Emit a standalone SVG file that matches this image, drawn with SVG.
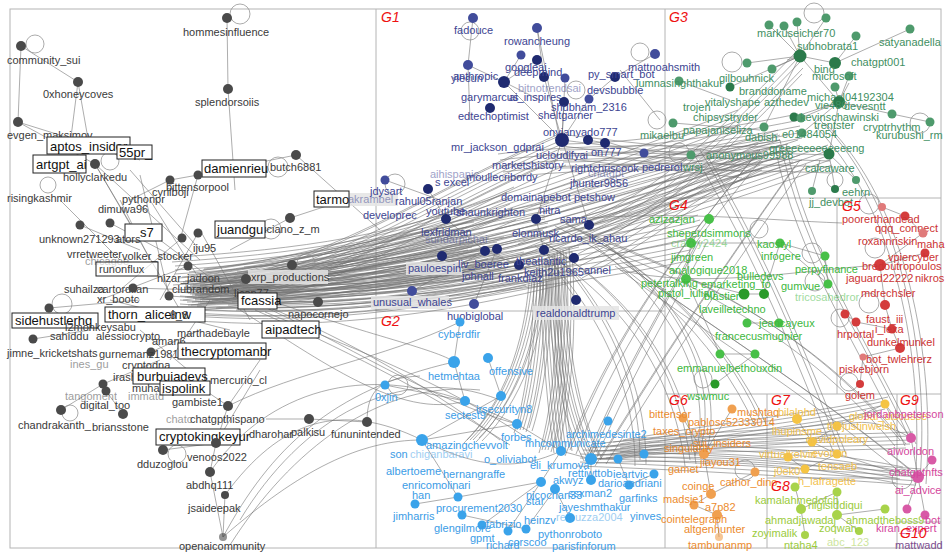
<svg xmlns="http://www.w3.org/2000/svg" width="950" height="557" viewBox="0 0 950 557">
<defs>
<style>
.t{font-family:"Liberation Sans",Arial,sans-serif;font-size:11px}
.bt{font-family:"Liberation Sans",Arial,sans-serif;font-size:13px;fill:#111}
.gl{font-family:"Liberation Sans",Arial,sans-serif;font-size:14px;font-style:italic;fill:#ee1111}
.bx{fill:#fff;stroke:#222;stroke-width:1}
.lb{fill:#e4e4e4;opacity:.85}
.fr{fill:none;stroke:#b4b4b4;stroke-width:1}
.e{fill:none;stroke:#6f6f6f;stroke-width:.8;stroke-opacity:.72}
.lp{fill:none;stroke:#8a8a8a;stroke-width:1}
.fd{opacity:.5}
.u{fill:#3a3a3a}.g1{fill:#3d4592}.g2{fill:#3b9ce6}.g3{fill:#3f8f62}.g4{fill:#3db83d}.g5{fill:#cc3333}.g6{fill:#ec8b2e}.g7{fill:#f2c14e}.g8{fill:#9bcb3c}.g9{fill:#d4479d}.g10{fill:#7b4d8f}
.nu{fill:#4a4a4a}.n1{fill:#414c9b}.n1d{fill:#1f2a70}.n2{fill:#3aa3ea}.n3{fill:#4e9a6c}.n3d{fill:#2b7a4b}.n4{fill:#48c048}.n4d{fill:#2a9a2a}.n5{fill:#d43c3c}.n5l{fill:#e07a7a}.n6{fill:#f0a050}.n7{fill:#f5c443}.n8{fill:#a8d34a}.n9{fill:#d85aa6}
</style>
<g id="bA">
<path d="M185 285C280 275 380 250 470 235"/>
<path d="M190 290C290 285 400 265 500 250"/>
<path d="M200 282C300 270 420 240 545 215"/>
<path d="M195 295C300 300 420 290 540 265"/>
<path d="M210 288C320 280 430 200 560 145"/>
<path d="M180 300C300 310 420 300 575 260"/>
<path d="M175 270C290 262 400 250 510 200"/>
<path d="M240 280C330 275 420 275 485 251"/>
<path d="M230 290C330 292 430 285 520 265"/>
</g>
<g id="bA2">
<path d="M190 285C350 270 600 200 780 140"/>
<path d="M200 290C380 280 620 210 800 150"/>
<path d="M195 295C400 290 640 220 760 160"/>
<path d="M205 280C370 260 580 180 740 120"/>
<path d="M185 292C380 290 650 240 700 225"/>
<path d="M200 298C400 300 600 270 690 250"/>
<path d="M220 292C420 285 620 230 830 155"/>
</g>
<g id="bG">
<path d="M540 200C600 180 660 160 780 140"/>
<path d="M560 150C620 150 700 140 800 120"/>
<path d="M520 250C600 220 680 170 790 150"/>
<path d="M580 260C640 230 700 180 760 150"/>
<path d="M500 160C580 150 680 150 830 155"/>
<path d="M562 140C640 150 700 155 740 160"/>
<path d="M590 225C650 200 700 160 800 56"/>
</g>
<g id="bB">
<path d="M545 260C548 320 550 380 560 450"/>
<path d="M552 255C555 320 560 400 590 458"/>
<path d="M540 270C540 340 530 400 520 430"/>
<path d="M560 250C565 330 560 400 545 450"/>
<path d="M535 280C530 340 510 400 470 440"/>
</g>
<g id="bC">
<path d="M560 220C640 260 720 330 760 420"/>
<path d="M580 230C680 270 800 320 900 440"/>
<path d="M600 240C680 300 720 380 700 450"/>
<path d="M540 240C640 300 680 380 690 460"/>
<path d="M620 260C700 320 800 380 910 470"/>
<path d="M700 150C760 250 800 350 840 450"/>
<path d="M780 140C800 250 870 350 910 440"/>
<path d="M820 120C900 200 930 350 920 480"/>
<path d="M560 260C620 330 640 400 640 460"/>
<path d="M570 450C610 350 660 270 760 150"/>
<path d="M590 455C630 360 680 280 700 240"/>
<path d="M600 460C650 380 700 300 800 160"/>
</g>
<g id="bD">
<path d="M590 452C700 440 800 445 910 440"/>
<path d="M600 455C700 450 800 455 900 475"/>
<path d="M610 450C700 438 780 440 840 430"/>
<path d="M580 458C700 462 820 470 918 477"/>
<path d="M620 448C720 430 820 420 885 405"/>
</g>
</defs>
<rect width="950" height="557" fill="#fff"/>
<g id="frames" class="fr">
<rect x="10" y="9" width="931" height="539"/>
<path d="M376 9V548M376 311H665M665 9V548M665 198H941M837 198V394M665 394H941M767 394V548M897 394V548M767 478H897M897 522H941"/>
</g>
<g id="connectors" class="e">
<use href="#bA"/><use href="#bA" transform="translate(0,4)"/><use href="#bA" transform="translate(0,-4)"/><use href="#bA" transform="translate(3,8)"/><use href="#bA" transform="translate(-3,-8)"/><use href="#bA" transform="translate(2,12)"/><use href="#bA" transform="translate(-2,15)"/><use href="#bA" transform="translate(4,-13)"/><use href="#bA" transform="translate(6,20)"/>
<use href="#bA2"/><use href="#bA2" transform="translate(0,5)"/><use href="#bA2" transform="translate(0,-5)"/><use href="#bA2" transform="translate(2,10)"/><use href="#bA2" transform="translate(-2,-10)"/>
<use href="#bG"/><use href="#bG" transform="translate(0,6)"/><use href="#bG" transform="translate(3,12)"/><use href="#bG" transform="translate(-2,-6)"/><use href="#bG" transform="translate(2,18)"/>
<use href="#bB"/><use href="#bB" transform="translate(3,0)"/><use href="#bB" transform="translate(6,2)"/><use href="#bB" transform="translate(-3,0)"/><use href="#bB" transform="translate(9,-2)"/><use href="#bB" transform="translate(-6,3)"/><use href="#bB" transform="translate(12,1)"/>
<use href="#bC"/><use href="#bC" transform="translate(6,4)"/><use href="#bC" transform="translate(-5,6)"/>
<use href="#bD"/><use href="#bD" transform="translate(0,4)"/><use href="#bD" transform="translate(0,-4)"/><use href="#bD" transform="translate(-4,8)"/><use href="#bD" transform="translate(3,-8)"/>
<path d="M21 46L78 82M21 46L18 122M78 82L70 145M78 82L90 150M18 122L95 164M18 122L140 160M227 18L228 89M228 89L235 190M296 155L198 175M198 175L170 180M296 155L380 230M170 180L130 200M198 175L180 240M95 164L140 240M95 164L200 260M80 225L140 250M110 223L180 260M198 233L160 300M182 238L120 290M188 266L100 300M133 288L200 290M169 296L230 300M49 308L140 300M33 339L90 330M151 352L200 330M290 218L230 250M290 218L348 199M292 265L230 280M318 302L240 300M246 279L200 300M120 200L150 260M60 200L120 260M150 200L200 280M210 300L170 360M140 330L200 380M103 384L61 410M106 391L123 414M103 384L160 360M163 450L216 443M216 443L210 472M210 472L223 537M225 495L223 537M228 406L216 443M228 406L190 380M309 419L367 422M309 419L266 419M228 406L260 360M216 443L260 370M130 170L200 250M140 175L170 300M110 300L230 330M200 230L250 320M160 240L240 300M95 164L180 310"/>
<path d="M225 495C280 420 340 400 422 440M223 537C270 450 330 390 454 362M210 472C260 400 350 360 465 401M228 406C300 370 380 360 460 322M240 520C300 420 400 360 500 400M230 545C290 450 380 380 480 390M367 422C367 390 380 378 420 376M250 300C330 330 420 380 500 440M260 305C340 340 430 400 520 425M240 310C320 360 400 420 465 401M270 300C350 330 440 350 454 362M223 537C300 470 360 440 422 440M255 310C335 345 425 390 510 445M265 312C345 345 440 380 530 440"/>
<path d="M537 28L544 77M521 55L504 82M537 60L504 82M544 77L562 140M504 82L562 140M565 78L562 140M589 99L562 140M564 102L562 140M615 77L655 54M615 77L589 99M473 18L468 65M468 65L504 82M504 82L540 100M468 65L470 120M588 140L605 143M562 140L536 219M536 219L544 250M485 251L519 265M446 219L485 251M442 256L497 249M412 291L485 251M576 300L544 250M589 225L562 140M644 153L600 140M644 153L690 155M428 189L446 219M385 180L440 200M474 304L497 249M620 70L660 120M537 28L560 140"/>
<path d="M769 25L800 56M784 26L800 56M797 22L800 56M826 18L800 56M856 36L835 63M910 29L835 63M787 60L800 56M772 69L800 56M747 63L800 56M730 87L800 56M849 83L839 102M835 87L839 102M849 76L839 102M892 114L839 102M930 122L892 114M794 117L839 102M801 118L839 102M764 127L800 56M802 133L839 102M829 154L839 102M856 180L829 154M679 81L730 100M673 123L760 130M691 155L780 140M835 189L829 154M812 191L820 160M800 56L839 102M835 63L800 56"/>
<path d="M709 219L691 243M691 243L686 279M686 279L744 294M744 294L764 294M764 294L780 243M780 243L825 256M825 256L828 284M747 323L779 323M720 354L755 354M686 279L720 354M691 243L780 243M715 384L755 354M828 284L780 243"/>
<path d="M882 207L905 216M905 216L923 233M923 233L880 265M925 253L880 265M880 265L885 305M885 305L892 329M845 314L856 322M856 322L892 329M892 329L900 348M863 357L900 348M860 384L863 357M842 223C760 220 680 210 560 220M880 265C800 270 700 290 620 270"/>
<path d="M422 440L501 396M422 440L517 424M517 424L561 451M561 451L591 459M591 459L618 459M618 459L644 454M541 482L561 451M591 480L591 459M629 485L618 459M555 489L570 518M526 529L555 489M482 525L541 482M508 531L541 482M458 497L541 482M462 515L526 529M415 504L458 497M454 362L465 401M465 401L517 424M460 322L454 362M488 358L501 396M608 421L591 459M654 474L629 485M422 440C480 470 520 470 561 451M385 385L465 401M422 440L458 497"/>
<path d="M683 418L704 454M704 454L711 494M711 494L694 505M732 409L704 454M755 472L711 494M717 515L694 505M719 537L717 515M797 419L812 442M812 442L837 426M837 426L885 404M788 457L805 469M805 469L837 454M837 454L812 442M795 487L801 509M801 509L837 492M837 492L837 515M837 515L885 509M805 535L801 509M859 531L837 515M911 438L918 477M932 460L918 477M918 477L925 515M907 509L918 477M885 404L911 438M918 477C880 470 860 460 837 454M911 438C880 420 860 420 837 426"/>
<g class="lp">
<circle cx="35" cy="44" r="9"/><circle cx="240" cy="14" r="10"/><circle cx="278" cy="167" r="10"/><circle cx="271" cy="229" r="10"/><circle cx="306" cy="263" r="9"/><circle cx="177" cy="454" r="9"/><circle cx="70" cy="413" r="8"/><circle cx="62" cy="304" r="10"/><circle cx="110" cy="161" r="9"/><circle cx="48" cy="185" r="8"/>
<circle cx="398" cy="385" r="10"/><circle cx="470" cy="31" r="9"/><circle cx="640" cy="52" r="9"/><circle cx="576" cy="90" r="9"/><circle cx="395" cy="184" r="10"/>
<circle cx="657" cy="120" r="9"/><circle cx="814" cy="13" r="10"/><circle cx="732" cy="62" r="10"/><circle cx="920" cy="123" r="10"/><circle cx="679" cy="153" r="10"/><circle cx="835" cy="180" r="8"/>
<circle cx="869" cy="204" r="10"/><circle cx="875" cy="248" r="10"/><circle cx="869" cy="303" r="10"/><circle cx="840" cy="318" r="9"/><circle cx="849" cy="382" r="9"/>
<circle cx="759" cy="229" r="9"/><circle cx="812" cy="253" r="10"/><circle cx="815" cy="281" r="10"/><circle cx="703" cy="379" r="9"/>
<circle cx="745" cy="470" r="10"/><circle cx="902" cy="479" r="10"/>
</g>
</g>
<g id="labelbg">
<rect class="lb" x="248" y="270" width="80" height="14"/><rect class="lb" x="533" y="306" width="86" height="14"/><rect class="lb" x="406" y="262" width="56" height="13"/><rect class="lb" x="346" y="193" width="52" height="13"/><rect class="lb" x="371" y="296" width="78" height="13"/>
</g>
<g id="ungrouped">
<g id="n_community_sui"><circle class="nu" cx="21" cy="46" r="5"/><text class="t u" x="7" y="64">community_sui</text></g>
<g id="n_0xhoneycoves"><circle class="nu" cx="78" cy="82" r="5"/><text class="t u" x="43" y="98">0xhoneycoves</text></g>
<g id="n_evgen_maksimov"><circle class="nu" cx="18" cy="122" r="5"/><text class="t u" x="7" y="139">evgen_maksimov</text></g>
<g id="n_aptos_insider"><rect class="bx" x="47" y="137" width="83" height="17"/><text class="bt" x="50" y="151">aptos_insider</text></g>
<g id="n_55pr_"><rect class="bx" x="117" y="145" width="35" height="14"/><text class="bt" x="119" y="157">55pr_</text></g>
<g id="n_artgpt_ai"><rect class="bx" x="33" y="155" width="53" height="18"/><text class="bt" x="36" y="169">artgpt_ai</text></g>
<g id="n_hollyclarkedu"><circle class="nu" cx="95" cy="164" r="5"/><text class="t u" x="63" y="181">hollyclarkedu</text></g>
<g id="n_hommesinfluence"><circle class="nu" cx="227" cy="18" r="5"/><text class="t u" x="183" y="36">hommesinfluence</text></g>
<g id="n_splendorsoiis"><circle class="nu" cx="228" cy="89" r="5"/><text class="t u" x="195" y="106">splendorsoiis</text></g>
<g id="n_damienrieu"><rect class="bx" x="202" y="160" width="64" height="17"/><text class="bt" x="204" y="173">damienrieu</text></g>
<g id="n_butch6881"><circle class="nu" cx="296" cy="155" r="5"/><text class="t u" x="270" y="171">butch6881</text></g>
<g id="n_bittensorpool"><circle class="nu" cx="170" cy="180" r="4.5"/><circle class="nu" cx="198" cy="175" r="4.5"/><text class="t u" x="166" y="191">bittensorpool</text></g>
<g id="n_risingkashmir"><circle class="nu" cx="80" cy="225" r="4.5"/><text class="t u" x="7" y="202">risingkashmir</text></g>
<g id="n_pythonpr"><text class="t u" x="122" y="203">pythonpr</text></g>
<g id="n_cyrilboji"><text class="t u" x="152" y="196">cyrilboji</text></g>
<g id="n_dimuwa96"><circle class="nu" cx="110" cy="223" r="4.5"/><text class="t u" x="98" y="213">dimuwa96</text></g>
<g id="n_s7"><rect class="bx" x="125" y="224" width="37" height="17"/><text class="bt" x="140" y="237">s7</text></g>
<g id="n_unknown271293"><circle class="nu" cx="182" cy="238" r="4.5"/><circle class="nu" cx="198" cy="233" r="4.5"/><text class="t u" x="39" y="243">unknown271293</text><text class="t u" x="116" y="243">ators</text></g>
<g id="n_vrretweeter"><text class="t u" x="67" y="258">vrretweeter</text></g>
<g id="n_volker_stocker"><text class="t u" x="122" y="260">volker_stocker</text></g>
<g id="n_iju95"><text class="t u" x="193" y="252">iju95</text></g>
<g id="n_chicagoe"><text class="t u fd" x="85" y="265">chicagoe</text></g>
<g id="n_runonflux"><rect class="bx" x="96" y="262" width="62" height="14" fill-opacity=".6"/><text class="t u" x="99" y="273">runonflux</text></g>
<g id="n_nizar_jadoon"><circle class="nu" cx="188" cy="266" r="4.5"/><text class="t u" x="157" y="282">nizar_jadoon</text></g>
<g id="n_suhailza"><text class="t u" x="64" y="293">suhailza</text><text class="t u" x="97" y="293">cartordilan</text></g>
<g id="n_clubrandom"><circle class="nu" cx="133" cy="288" r="4.5"/><circle class="nu" cx="169" cy="296" r="4.5"/><text class="t u" x="172" y="293">clubrandom</text></g>
<g id="n_xr_bootc"><text class="t u" x="97" y="303">xr_bootc</text></g>
<g id="n_sidehustlerhq"><circle class="nu" cx="49" cy="308" r="4.5"/><rect class="bx" x="12" y="313" width="86" height="15"/><text class="bt" x="15" y="325">sidehustlerhq</text></g>
<g id="n_thorn_aliceinw"><rect class="bx" x="105" y="307" width="100" height="15"/><text class="bt" x="108" y="319">thorn_aliceinw</text><text class="t u" x="170" y="319">8_8</text></g>
<g id="n_monkeysabu"><text class="t u" x="65" y="331">l2monkeysabu</text></g>
<g id="n_sahiddu"><circle class="nu" cx="33" cy="339" r="4.5"/><text class="t u" x="50" y="340">sahiddu</text></g>
<g id="n_alessiocrypto"><text class="t u" x="96" y="340">alessiocrypto</text></g>
<g id="n_aman6"><text class="t u" x="152" y="345">aman6</text></g>
<g id="n_marthadebayle"><text class="t u" x="177" y="337">marthadebayle</text></g>
<g id="n_jimne_kricketshats"><text class="t u" x="7" y="357">jimne_kricketshats</text></g>
<g id="n_gurnemanz1981"><circle class="nu" cx="151" cy="352" r="4.5"/><text class="t u" x="99" y="358">gurnemanz1981</text></g>
<g id="n_thecryptomanbr"><rect class="bx" x="178" y="343" width="88" height="16"/><text class="bt" x="181" y="356">thecryptomanbr</text></g>
<g id="n_cryptodna"><text class="t u fd" x="70" y="368">ines_gu</text><text class="t u" x="122" y="369">cryptodna</text></g>
<g id="n_xrp_productions"><circle class="nu" cx="246" cy="279" r="5"/><text class="t u" x="251" y="281">xrp_productions</text></g>
<g id="n_lican77"><text class="t u" x="234" y="297">lican77</text></g>
<g id="n_fcassia"><rect class="bx" x="238" y="293" width="39" height="16"/><text class="bt" x="241" y="305">fcassia</text></g>
<g id="n_napocornejo"><circle class="nu" cx="318" cy="302" r="5"/><text class="t u" x="288" y="318">napocornejo</text></g>
<g id="n_aipadtech"><rect class="bx" x="262" y="321" width="57" height="17"/><text class="bt" x="265" y="334">aipadtech</text></g>
<g id="n_tarmo"><circle class="nu" cx="290" cy="218" r="5"/><rect class="bx" x="314" y="191" width="35" height="16"/><text class="bt" x="316" y="204">tarmo</text><text class="t g1 fd" x="348" y="203">akrambel</text></g>
<g id="n_luciano_z_m"><text class="t u" x="258" y="233">luciano_z_m</text></g>
<g id="n_juandgu"><circle class="nu" cx="292" cy="265" r="5"/><rect class="bx" x="215" y="221" width="50" height="17"/><text class="bt" x="217" y="234">juandgu</text></g>
<g id="n_mercurio_cl"><text class="t u" x="210" y="384">mercurio_cl</text></g>
<g id="n_chatgpthispano"><circle class="nu" cx="228" cy="406" r="5"/><text class="t u fd" x="166" y="423">chatc</text><text class="t u" x="190" y="423">chatgpthispano</text></g>
<g id="n_dharohar"><text class="t u" x="249" y="438">dharohar</text></g>
<g id="n_palkisu"><circle class="nu" cx="309" cy="419" r="5"/><text class="t u" x="291" y="436">palkisu</text></g>
<g id="n_fununintended"><circle class="nu" cx="367" cy="422" r="5"/><text class="t u" x="331" y="438">fununintended</text></g>
<g id="n_burbujadevs"><text class="t u" x="113" y="381">irash</text><rect class="bx" x="133" y="368" width="72" height="16"/><text class="bt" x="137" y="381">burbujadevs</text></g>
<g id="n_ispolink"><circle class="nu" cx="103" cy="384" r="4.5"/><circle class="nu" cx="106" cy="391" r="4.5"/><text class="t u" x="132" y="392">muhan</text><rect class="bx" x="160" y="381" width="50" height="14"/><text class="bt" x="162" y="393">ispolink</text></g>
<g id="n_tangoment"><text class="t u fd" x="65" y="400">tangoment</text></g>
<g id="n_digital_too"><text class="t u" x="80" y="409">digital_too</text></g>
<g id="n_gambiste1"><text class="t u fd" x="128" y="400">immatd</text><text class="t u" x="172" y="406">gambiste1</text></g>
<g id="n_chandrakanth_"><circle class="nu" cx="61" cy="410" r="5"/><text class="t u" x="18" y="429">chandrakanth_</text></g>
<g id="n_briansstone"><circle class="nu" cx="123" cy="414" r="5"/><text class="t u" x="92" y="431">briansstone</text></g>
<g id="n_cryptokingkeyur"><rect class="bx" x="156" y="429" width="84" height="16"/><text class="bt" x="159" y="441">cryptokingkeyur</text></g>
<g id="n_dduzoglou"><circle class="nu" cx="163" cy="450" r="5"/><text class="t u" x="137" y="468">dduzoglou</text></g>
<g id="n_venoos2022"><circle class="nu" cx="216" cy="443" r="5"/><text class="t u" x="187" y="461">venoos2022</text></g>
<g id="n_abdhq111"><circle class="nu" cx="210" cy="472" r="5"/><text class="t u" x="186" y="489">abdhq111</text></g>
<g id="n_jsaideepak"><circle class="nu" cx="225" cy="495" r="4"/><text class="t u" x="188" y="512">jsaideepak</text></g>
<g id="n_openaicommunity"><circle class="nu" cx="223" cy="537" r="4" opacity=".6"/><text class="t u" x="179" y="550">openaicommunity</text></g>
</g>
<g id="G1">
<g id="n_fadouce"><circle class="n1" cx="473" cy="18" r="5"/><text class="t g1" x="454" y="34">fadouce</text></g>
<g id="n_ylecun"><circle class="n1" cx="468" cy="65" r="5"/><text class="t g1" x="451" y="82">ylecun</text></g>
<g id="n_rowancheung"><circle class="n1" cx="537" cy="28" r="5"/><text class="t g1" x="504" y="45">rowancheung</text></g>
<g id="n_googleai"><circle class="n1" cx="521" cy="55" r="4.5"/><circle class="n1d" cx="537" cy="60" r="5"/><text class="t g1" x="505" y="71">googleai</text></g>
<g id="n_deepmind"><circle class="n1d" cx="544" cy="77" r="5"/><text class="t g1" x="514" y="76">deepmind</text></g>
<g id="n_anthropic"><circle class="n1d" cx="504" cy="82" r="6"/><text class="t g1" x="453" y="80">anthropic</text></g>
<g id="n_bitnotrendsai"><text class="t g1 fd" x="518" y="92">bitnotrendsai</text></g>
<g id="n_garymarcus"><text class="t g1" x="461" y="101">garymarcus</text><text class="t g1" x="509" y="101">ai_inspires</text></g>
<g id="n_py_smart_bot"><circle class="n1" cx="565" cy="78" r="4.5"/><circle class="n1d" cx="615" cy="77" r="5"/><text class="t g1" x="588" y="78">py_smart_bot</text></g>
<g id="n_mattnoahsmith"><circle class="n1" cx="655" cy="54" r="5"/><text class="t g1" x="628" y="71">mattnoahsmith</text></g>
<g id="n_devsbubble"><circle class="n1" cx="589" cy="99" r="4.5"/><text class="t g1" x="587" y="94">devsbubble</text></g>
<g id="n_shubham_2316"><circle class="n1d" cx="564" cy="102" r="5"/><text class="t g1" x="551" y="111">shubham_2316</text></g>
<g id="n_sheltgarner"><text class="t g1" x="538" y="119">sheltgarner</text></g>
<g id="n_edtechoptimist"><circle class="n1d" cx="490" cy="108" r="5"/><text class="t g1" x="458" y="120">edtechoptimist</text></g>
<g id="n_onyianyado777"><text class="t g1" x="543" y="136">onyianyado777</text></g>
<g id="n_hub1"><circle class="n1d" cx="562" cy="140" r="7"/><circle class="n1d" cx="588" cy="140" r="5"/><circle class="n1d" cx="605" cy="143" r="5"/></g>
<g id="n_mr_jackson"><text class="t g1" x="451" y="151">mr_jackson_gdprai</text></g>
<g id="n_ucloudifyai"><text class="t g1" x="536" y="159">ucloudifyai</text><text class="t g1" x="591" y="156">on777</text></g>
<g id="n_marketshistory"><text class="t g1" x="492" y="169">marketshistory</text></g>
<g id="n_rightchriscook"><text class="t g1" x="571" y="172">rightchriscook</text></g>
<g id="n_moullecribordy"><text class="t g1" x="466" y="181">moullecribordy</text></g>
<g id="n_chatgpt"><text class="t g1 fd" x="588" y="177">chatgpt</text></g>
<g id="n_jhunter9856"><text class="t g1" x="570" y="187">jhunter9856</text></g>
<g id="n_pedrerol"><circle class="n1" cx="644" cy="153" r="4.5"/><text class="t g1" x="642" y="171">pedrerol</text></g>
<g id="n_aihispanic"><text class="t g1 fd" x="430" y="178">aihispanic</text><text class="t g1" x="435" y="186">s excel</text></g>
<g id="n_g1left"><circle class="n1" cx="385" cy="180" r="4.5"/></g>
<g id="n_jdysart"><circle class="n1d" cx="428" cy="189" r="5"/><text class="t g1" x="370" y="195">jdysart</text></g>
<g id="n_rahul05ranjan"><text class="t g1" x="395" y="205">rahul05ranjan</text></g>
<g id="n_developrec"><text class="t g1" x="363" y="219">developrec</text></g>
<g id="n_youtube"><text class="t g1" x="426" y="215">youtube</text></g>
<g id="n_shaunkrighton"><text class="t g1" x="456" y="216">shaunkrighton</text></g>
<g id="n_lexfridman"><circle class="n1d" cx="446" cy="219" r="5"/><text class="t g1" x="421" y="236">lexfridman</text></g>
<g id="n_sundarpichai"><text class="t g1 fd" x="425" y="243">sundarpichai</text></g>
<g id="n_elonmusk"><circle class="n1d" cx="536" cy="219" r="5"/><text class="t g1" x="512" y="237">elonmusk</text></g>
<g id="n_domainapebot"><text class="t g1" x="501" y="201">domainapebot</text><text class="t g1" x="574" y="201">petshow</text></g>
<g id="n_nitra"><text class="t g1" x="539" y="214">nitra</text></g>
<g id="n_sama"><circle class="n1d" cx="589" cy="225" r="5"/><text class="t g1" x="560" y="223">sama</text></g>
<g id="n_ricardo_ik_ahau"><circle class="n1d" cx="544" cy="250" r="5"/><text class="t g1" x="549" y="242">ricardo_ik_ahau</text></g>
<g id="n_g1mid"><circle class="n1d" cx="485" cy="251" r="5"/><circle class="n1d" cx="497" cy="249" r="5"/><circle class="n1d" cx="574" cy="258" r="5"/><circle class="n1d" cx="519" cy="265" r="5"/></g>
<g id="n_pauloespin"><circle class="n1d" cx="442" cy="256" r="5"/><text class="t g1" x="408" y="272">pauloespin</text></g>
<g id="n_liv_boeree"><text class="t g1" x="458" y="268">liv_boeree</text></g>
<g id="n_theatlantic"><text class="t g1" x="516" y="265">theatlantic</text></g>
<g id="n_keith2u1965"><text class="t g1" x="524" y="276">keith2u1965</text></g>
<g id="n_annel"><text class="t g1" x="584" y="274">annel</text></g>
<g id="n_johnall"><text class="t g1" x="462" y="280">johnall</text></g>
<g id="n_frankdiaz"><text class="t g1" x="498" y="282">frankdiaz</text></g>
<g id="n_realdonaldtrump"><circle class="n1d" cx="576" cy="300" r="5"/><text class="t g1" x="536" y="317">realdonaldtrump</text></g>
<g id="n_unusual_whales"><circle class="n1" cx="412" cy="291" r="5"/><text class="t g1" x="373" y="306">unusual_whales</text></g>
<g id="n_huobiglobal"><circle class="n1" cx="474" cy="304" r="5"/><text class="t g1" x="447" y="320">huobiglobal</text></g>
</g>
<g id="G2">
<g id="n_cyberdfir"><circle class="n2" cx="460" cy="322" r="4.5"/><text class="t g2" x="438" y="338">cyberdfir</text></g>
<g id="n_hetmehtaa"><circle class="n2" cx="454" cy="362" r="6"/><text class="t g2" x="428" y="380">hetmehtaa</text></g>
<g id="n_offensive"><circle class="n2" cx="488" cy="358" r="5"/><text class="t g2" x="489" y="375">offensive</text></g>
<g id="n_0xjin"><circle class="n2" cx="385" cy="385" r="4.5"/><text class="t g2" x="375" y="401">0xjin</text></g>
<g id="n_sectest9"><circle class="n2" cx="465" cy="401" r="5"/><text class="t g2" x="445" y="419">sectest9</text></g>
<g id="n_irsecurityn8"><circle class="n2" cx="501" cy="396" r="5"/><circle class="n2" cx="517" cy="424" r="5"/><text class="t g2" x="476" y="413">irsecurityn8</text></g>
<g id="n_amazingchevvolt"><circle class="n2" cx="422" cy="440" r="6"/><text class="t g2" x="426" y="449">amazingchevvolt</text></g>
<g id="n_forbes"><text class="t g2" x="501" y="441">forbes</text></g>
<g id="n_archimedesinte2"><circle class="n2" cx="608" cy="421" r="4.5"/><text class="t g2" x="566" y="438">archimedesinte2</text></g>
<g id="n_mhcommunicate"><text class="t g2" x="525" y="447">mhcommunicate</text></g>
<g id="n_son"><text class="t g2" x="390" y="458">son</text><text class="t g2 fd" x="410" y="458">chiganbaravi</text></g>
<g id="n_o_oliviabot"><text class="t g2" x="484" y="463">o_oliviabot</text></g>
<g id="n_albertoeme"><text class="t g2" x="386" y="475">albertoeme</text></g>
<g id="n_hernangraffe"><text class="t g2" x="443" y="478">hernangraffe</text></g>
<g id="n_eli_krumova"><circle class="n2" cx="561" cy="451" r="5"/><text class="t g2" x="530" y="469">eli_krumova</text></g>
<g id="n_hub2"><circle class="n2" cx="591" cy="459" r="6"/><circle class="n2" cx="618" cy="459" r="4.5"/><circle class="n2" cx="644" cy="454" r="4.5"/><circle class="n2" cx="654" cy="474" r="4.5"/></g>
<g id="n_rettiwttob"><text class="t g2" x="568" y="477">rettiwttob</text></g>
<g id="n_ieartvic"><text class="t g2" x="613" y="478">ieartvic</text></g>
<g id="n_akwyz"><circle class="n2" cx="541" cy="482" r="5"/><text class="t g2" x="553" y="484">akwyz</text></g>
<g id="n_darioandriani"><circle class="n2" cx="591" cy="480" r="5"/><circle class="n2" cx="629" cy="485" r="4.5"/><text class="t g2" x="598" y="487">darioandriani</text></g>
<g id="n_enricomolinari"><text class="t g2" x="402" y="489">enricomolinari</text></g>
<g id="n_nicochan33"><circle class="n2" cx="555" cy="489" r="5"/><text class="t g2" x="526" y="499">nicochan33</text></g>
<g id="n_ssxman2"><text class="t g2" x="568" y="497">ssxman2</text></g>
<g id="n_garfinks"><text class="t g2" x="619" y="502">garfinks</text></g>
<g id="n_han"><circle class="n2" cx="415" cy="504" r="4.5"/><text class="t g2" x="412" y="499">han</text></g>
<g id="n_star"><text class="t g2" x="526" y="505">star</text></g>
<g id="n_procurement2030"><circle class="n2" cx="458" cy="497" r="4.5"/><text class="t g2" x="436" y="512">procurement2030</text></g>
<g id="n_jayeshmthakur"><text class="t g2" x="559" y="511">jayeshmthakur</text></g>
<g id="n_remuzza2004"><circle class="n2" cx="570" cy="518" r="5"/><text class="t g2 fd" x="556" y="521">remuzza2004</text></g>
<g id="n_yinves"><text class="t g2" x="630" y="520">yinves</text></g>
<g id="n_jimharris"><text class="t g2" x="393" y="520">jimharris</text></g>
<g id="n_fabrizio"><circle class="n2" cx="482" cy="525" r="4.5"/><text class="t g2" x="486" y="528">fabrizio</text></g>
<g id="n_heinzv"><circle class="n2" cx="526" cy="529" r="4.5"/><text class="t g2" x="524" y="524">heinzv</text></g>
<g id="n_glengilmore"><circle class="n2" cx="462" cy="515" r="4.5"/><text class="t g2" x="434" y="532">glengilmore</text></g>
<g id="n_pythonroboto"><text class="t g2" x="538" y="538">pythonroboto</text></g>
<g id="n_gpmt"><circle class="n2" cx="508" cy="531" r="4.5"/><text class="t g2" x="470" y="542">gpmt</text></g>
<g id="n_corscoo"><text class="t g2" x="508" y="546">corscoo</text></g>
<g id="n_richard"><text class="t g2" x="486" y="549">richard</text></g>
<g id="n_parisfinforum"><text class="t g2" x="552" y="550">parisfinforum</text></g>
</g>
<g id="G3">
<g id="n_lumnasinghthakur"><circle class="n3" cx="679" cy="81" r="4.5"/><text class="t g3" x="636" y="87">lumnasinghthakur</text></g>
<g id="n_mikaelbu"><circle class="n3" cx="673" cy="123" r="4.5"/><text class="t g3" x="640" y="139">mikaelbu</text></g>
<g id="n_trojen"><text class="t g3" x="683" y="111">trojen</text></g>
<g id="n_chipsystryder"><text class="t g3" x="693" y="121">chipsystryder</text></g>
<g id="n_papajaniseliza"><text class="t g3" x="683" y="134">papajaniseliza</text></g>
<g id="n_wrsj"><circle class="n3" cx="691" cy="155" r="4.5"/><text class="t g3" x="683" y="171">wrsj</text></g>
<g id="n_markuseicher70"><circle class="n3" cx="769" cy="25" r="4.5"/><circle class="n3" cx="784" cy="26" r="4.5"/><circle class="n3" cx="797" cy="22" r="4.5"/><circle class="n3" cx="826" cy="18" r="4.5"/><text class="t g3" x="757" y="37">markuseicher70</text></g>
<g id="n_subhobrata1"><circle class="n3d" cx="800" cy="56" r="6.5"/><text class="t g3" x="797" y="50">subhobrata1</text></g>
<g id="n_chatgpt001"><circle class="n3d" cx="835" cy="63" r="6"/><text class="t g3" x="851" y="66">chatgpt001</text></g>
<g id="n_satyanadella"><circle class="n3" cx="910" cy="29" r="4.5"/><circle class="n3" cx="856" cy="36" r="4.5"/><text class="t g3" x="879" y="46">satyanadella</text></g>
<g id="n_gilbouhnick"><circle class="n3" cx="747" cy="63" r="4.5"/><circle class="n3" cx="772" cy="69" r="4.5"/><text class="t g3" x="719" y="82">gilbouhnick</text></g>
<g id="n_microsoft"><circle class="n3" cx="849" cy="76" r="4.5"/><text class="t g3" x="814" y="73">bing</text><text class="t g3" x="812" y="80">microsoft</text></g>
<g id="n_branddoname"><circle class="n3d" cx="730" cy="87" r="4.5"/><text class="t g3" x="739" y="95">branddoname</text></g>
<g id="n_michael04192304"><circle class="n3" cx="835" cy="87" r="4.5"/><text class="t g3" x="807" y="101">michael04192304</text></g>
<g id="n_vitalyshape"><text class="t g3" x="705" y="106">vitalyshape</text><text class="t g3" x="764" y="106">azthedev</text></g>
<g id="n_devesntt"><circle class="n3d" cx="839" cy="102" r="6"/><text class="t g3" x="815" y="109">vie486</text><text class="t g3" x="844" y="110">devesntt</text></g>
<g id="n_kevinschawinski"><circle class="n3d" cx="794" cy="117" r="4.5"/><circle class="n3" cx="801" cy="118" r="4.5"/><text class="t g3" x="800" y="121">kevinschawinski</text></g>
<g id="n_cryptrhythm"><circle class="n3" cx="892" cy="114" r="4.5"/><text class="t g3" x="863" y="131">cryptrhythm</text></g>
<g id="n_kurubushi_rm"><circle class="n3" cx="930" cy="122" r="4.5"/><text class="t g3" x="876" y="139">kurubushi_rm</text></g>
<g id="n_trentster"><text class="t g3" x="814" y="129">trentster</text></g>
<g id="n_e01484054"><circle class="n3" cx="802" cy="133" r="4.5"/><text class="t g3" x="782" y="138">e01484054</text></g>
<g id="n_dabish"><circle class="n3" cx="764" cy="127" r="4.5"/><text class="t g3" x="745" y="141">dabish</text></g>
<g id="n_anonymous99988"><text class="t g3" x="706" y="159">anonymous99988</text></g>
<g id="n_greeeeeeeeeeeeng"><text class="t g3" x="769" y="152">greeeeeeeeeeeeng</text></g>
<g id="n_calcaware"><circle class="n3d" cx="829" cy="154" r="5.5"/><circle class="n3" cx="856" cy="180" r="4"/><text class="t g3" x="805" y="172">calcaware</text></g>
<g id="n_eehrn"><circle class="n3d" cx="835" cy="189" r="4"/><text class="t g3" x="842" y="196">eehrn</text></g>
<g id="n_jj_devbot"><circle class="n3" cx="812" cy="191" r="4"/><text class="t g3" x="809" y="206">jj_devbot</text></g>
</g>
<g id="G4">
<g id="n_azizazjan"><circle class="n4" cx="709" cy="219" r="5"/><text class="t g4" x="649" y="223">azizazjan</text></g>
<g id="n_sheperdsimmons"><circle class="n4" cx="691" cy="243" r="5"/><text class="t g4" x="667" y="237">sheperdsimmons</text></g>
<g id="n_crazyy2424"><text class="t g4 fd" x="671" y="247">crazyy2424</text></g>
<g id="n_kaostyl"><circle class="n4" cx="780" cy="243" r="4.5"/><text class="t g4" x="757" y="248">kaostyl</text></g>
<g id="n_infogere"><circle class="n4" cx="825" cy="256" r="4.5"/><text class="t g4" x="761" y="260">infogere</text></g>
<g id="n_jimgreen"><text class="t g4" x="671" y="261">jimgreen</text></g>
<g id="n_analogique2018"><circle class="n4" cx="686" cy="279" r="5"/><text class="t g4" x="669" y="274">analogique2018</text></g>
<g id="n_bulledevs"><text class="t g4" x="737" y="280">bulledevs</text></g>
<g id="n_perpyfinance"><text class="t g4" x="795" y="273">perpyfinance</text></g>
<g id="n_petertalking"><text class="t g4" x="641" y="287">petertalking</text></g>
<g id="n_emarketing_fo"><text class="t g4" x="701" y="288">emarketing_fo</text></g>
<g id="n_gumvue"><circle class="n4" cx="828" cy="284" r="4.5"/><text class="t g4" x="781" y="290">gumvue</text></g>
<g id="n_pistol_iulian"><text class="t g4" x="658" y="297">pistol_iulian</text></g>
<g id="n_blastier"><circle class="n4d" cx="744" cy="294" r="5.5"/><circle class="n4d" cx="764" cy="294" r="5"/><text class="t g4" x="704" y="300">blastier</text></g>
<g id="n_tricosahedror"><text class="t g4 fd" x="795" y="301">tricosahedror</text></g>
<g id="n_laveilletechno"><text class="t g4" x="699" y="313">laveilletechno</text></g>
<g id="n_jeancayeux"><circle class="n4" cx="747" cy="323" r="4.5"/><circle class="n4" cx="779" cy="323" r="4.5"/><text class="t g4" x="759" y="327">jeancayeux</text></g>
<g id="n_francecu"><text class="t g4" x="715" y="340">francecu</text></g>
<g id="n_smugnier"><text class="t g4" x="757" y="340">smugnier</text></g>
<g id="n_emmanuelbethouxdin"><circle class="n4" cx="755" cy="354" r="4.5"/><circle class="n4" cx="720" cy="354" r="4.5"/><text class="t g4" x="677" y="372">emmanuelbethouxdin</text></g>
<g id="n_wswmuc"><circle class="n4d" cx="715" cy="384" r="4.5"/><text class="t g4" x="687" y="400">wswmuc</text></g>
</g>
<g id="G5">
<g id="n_poorerthandead"><circle class="n5l" cx="882" cy="207" r="4"/><circle class="n5" cx="905" cy="216" r="4.5"/><text class="t g5" x="842" y="223">poorerthandead</text></g>
<g id="n_qqq_connect"><text class="t g5" x="875" y="232">qqq_connect</text></g>
<g id="n_roxannriskin"><circle class="n5l" cx="923" cy="233" r="4.5"/><text class="t g5" x="858" y="245">roxannriskin</text></g>
<g id="n_maha"><text class="t g5" x="917" y="248">maha</text></g>
<g id="n_vpiercyber"><circle class="n5" cx="925" cy="253" r="4.5"/><text class="t g5" x="888" y="261">vpiercyber</text></g>
<g id="n_bredoutropoulos"><circle class="n5" cx="880" cy="265" r="6" fill="#c41e1e"/><text class="t g5" x="862" y="270">bredoutropoulos</text></g>
<g id="n_jaguard22222"><text class="t g5" x="846" y="282">jaguard22222</text></g>
<g id="n_nikros"><text class="t g5" x="915" y="282">nikros</text></g>
<g id="n_mdrechsler"><text class="t g5" x="861" y="297">mdrechsler</text></g>
<g id="n_faust_iii"><circle class="n5" cx="885" cy="305" r="5"/><text class="t g5" x="866" y="323">faust_iii</text></g>
<g id="n_hrportal"><circle class="n5" cx="845" cy="314" r="4.5"/><circle class="n5" cx="856" cy="322" r="4.5"/><text class="t g5" x="837" y="338">hrportal</text></g>
<g id="n_i_lexa"><circle class="n5" cx="892" cy="329" r="4.5"/><text class="t g5" x="875" y="333">i_lexa</text></g>
<g id="n_dunkelmunkel"><circle class="n5" cx="900" cy="348" r="5"/><text class="t g5" x="867" y="346">dunkelmunkel</text></g>
<g id="n_bot_twlehrerz"><circle class="n5l" cx="863" cy="357" r="3.5"/><text class="t g5" x="866" y="363">bot_twlehrerz</text></g>
<g id="n_piskebjorn"><circle class="n5" cx="860" cy="384" r="4"/><text class="t g5" x="839" y="373">piskebjorn</text></g>
<g id="n_golem"><text class="t g5" x="845" y="399">golem</text></g>
</g>
<g id="G6">
<g id="n_bittensor"><circle class="n6" cx="683" cy="418" r="4.5"/><text class="t g6" x="649" y="418">bittensor</text></g>
<g id="n_pablosc52333014"><text class="t g6" x="688" y="426">pablosc52333014</text></g>
<g id="n_taxes_crypto"><text class="t g6" x="653" y="435">taxes_crypto</text></g>
<g id="n_sui_insiders"><text class="t g6" x="693" y="447">sui_insiders</text></g>
<g id="n_singularity"><circle class="n6" cx="704" cy="454" r="5"/><text class="t g6" x="664" y="452">singularity</text></g>
<g id="n_jiayou31"><text class="t g6" x="700" y="466">jiayou31</text></g>
<g id="n_gamet"><text class="t g6" x="668" y="473">gamet</text></g>
<g id="n_cathor_dino"><circle class="n6" cx="755" cy="472" r="4.5"/><text class="t g6" x="720" y="486">cathor_dino</text></g>
<g id="n_coinge"><circle class="n6" cx="711" cy="494" r="5"/><text class="t g6" x="682" y="490">coinge</text></g>
<g id="n_madsje1"><circle class="n6" cx="694" cy="505" r="4.5"/><text class="t g6" x="663" y="503">madsje1</text></g>
<g id="n_a7p82"><text class="t g6" x="705" y="511">a7p82</text></g>
<g id="n_cointelegraph"><circle class="n6" cx="717" cy="515" r="5"/><text class="t g6" x="661" y="523">cointelegraph</text></g>
<g id="n_altgenhunter"><text class="t g6" x="684" y="533">altgenhunter</text></g>
<g id="n_tambunanmp"><circle class="n6" cx="719" cy="537" r="4" opacity=".6"/><text class="t g6" x="688" y="549">tambunanmp</text></g>
<g id="n_mushtaqbilalphd"><circle class="n6" cx="732" cy="409" r="4.5"/><text class="t g6" x="737" y="416">mushtaq</text></g>
</g>
<g id="G7">
<g id="n_bilalphd"><circle class="n7" cx="797" cy="419" r="5"/><text class="t g7" x="778" y="416">bilalphd</text></g>
<g id="n_lhupinsme"><text class="t g7" x="772" y="435">lhupinsme</text></g>
<g id="n_davidpoleary"><circle class="n7" cx="812" cy="442" r="4.5"/><text class="t g7" x="806" y="443">davidpoleary</text></g>
<g id="n_thejustinwelsh"><circle class="n7" cx="837" cy="426" r="4.5"/><text class="t g7" x="827" y="430">thejustinwelsh</text></g>
<g id="n_global_discusse"><circle class="n7" cx="885" cy="404" r="4.5"/><text class="t g7" x="849" y="420">global_discusse</text></g>
<g id="n_virtualkelvin"><circle class="n7" cx="788" cy="457" r="4.5"/><text class="t g7" x="759" y="458">virtualkelvin</text></g>
<g id="n_evotion"><circle class="n7" cx="837" cy="454" r="4.5"/><text class="t g7" x="812" y="457">evotion</text></g>
<g id="n_tensaeb"><text class="t g7" x="818" y="470">tensaeb</text></g>
<g id="n_j0ek0"><circle class="n7" cx="805" cy="469" r="4.5"/><text class="t g7" x="774" y="475">j0ek0</text></g>
<g id="n_h_lafragette"><text class="t g7" x="798" y="485">h_lafragette</text></g>
</g>
<g id="G8">
<g id="n_kamalahmedofch"><circle class="n8" cx="795" cy="487" r="4.5"/><text class="t g8" x="755" y="504">kamalahmedofch</text></g>
<g id="n_nigisiddiqui"><circle class="n8" cx="837" cy="492" r="4.5"/><text class="t g8" x="808" y="509">nigisiddiqui</text></g>
<g id="n_ahmadjawadaj"><circle class="n8" cx="801" cy="509" r="5"/><text class="t g8" x="765" y="524">ahmadjawadaj</text></g>
<g id="n_ahmadtheboss9"><circle class="n8" cx="885" cy="509" r="4.5"/><circle class="n8" cx="837" cy="515" r="5"/><text class="t g8" x="846" y="524">ahmadtheboss9</text></g>
<g id="n_zoyimalik"><text class="t g8" x="752" y="537">zoyimalik</text></g>
<g id="n_zoqwan"><circle class="n8" cx="859" cy="531" r="4"/><text class="t g8" x="819" y="532">zoqwan</text></g>
<g id="n_abc_123"><text class="t g8 fd" x="827" y="546">abc_123</text></g>
<g id="n_ntaha4"><circle class="n8" cx="805" cy="535" r="4"/><text class="t g8" x="784" y="549">ntaha4</text></g>
</g>
<g id="G9">
<g id="n_jordanbpeterson"><text class="t g9" x="864" y="418">jordanbpeterson</text></g>
<g id="n_aiworldon"><circle class="n9" cx="911" cy="438" r="5"/><text class="t g9" x="887" y="455">aiworldon</text></g>
<g id="n_chatgptnfts"><circle class="n9" cx="918" cy="477" r="6" fill="#c2288a"/><circle class="n9" cx="932" cy="460" r="4.5"/><text class="t g9" x="889" y="476">chatgptnfts</text></g>
<g id="n_ai_advice"><circle class="n9" cx="907" cy="509" r="4.5"/><text class="t g9" x="895" y="494">ai_advice</text></g>
<g id="n_bot"><circle class="n9" cx="925" cy="515" r="4.5"/><text class="t g9" x="925" y="524">bot</text></g>
<g id="n_kiran_expert"><text class="t g9" x="876" y="532">kiran_expert</text></g>
</g>
<g id="G10">
<g id="n_mattwadd"><text class="t g10" x="895" y="549">mattwadd</text></g>
</g>
<g id="group-labels">
<text class="gl" x="381" y="22">G1</text><text class="gl" x="381" y="326">G2</text><text class="gl" x="669" y="22">G3</text><text class="gl" x="669" y="210">G4</text><text class="gl" x="842" y="211">G5</text><text class="gl" x="669" y="405">G6</text><text class="gl" x="771" y="405">G7</text><text class="gl" x="771" y="491">G8</text><text class="gl" x="900" y="405">G9</text><text class="gl" x="900" y="538">G10</text>
</g>
</svg>
